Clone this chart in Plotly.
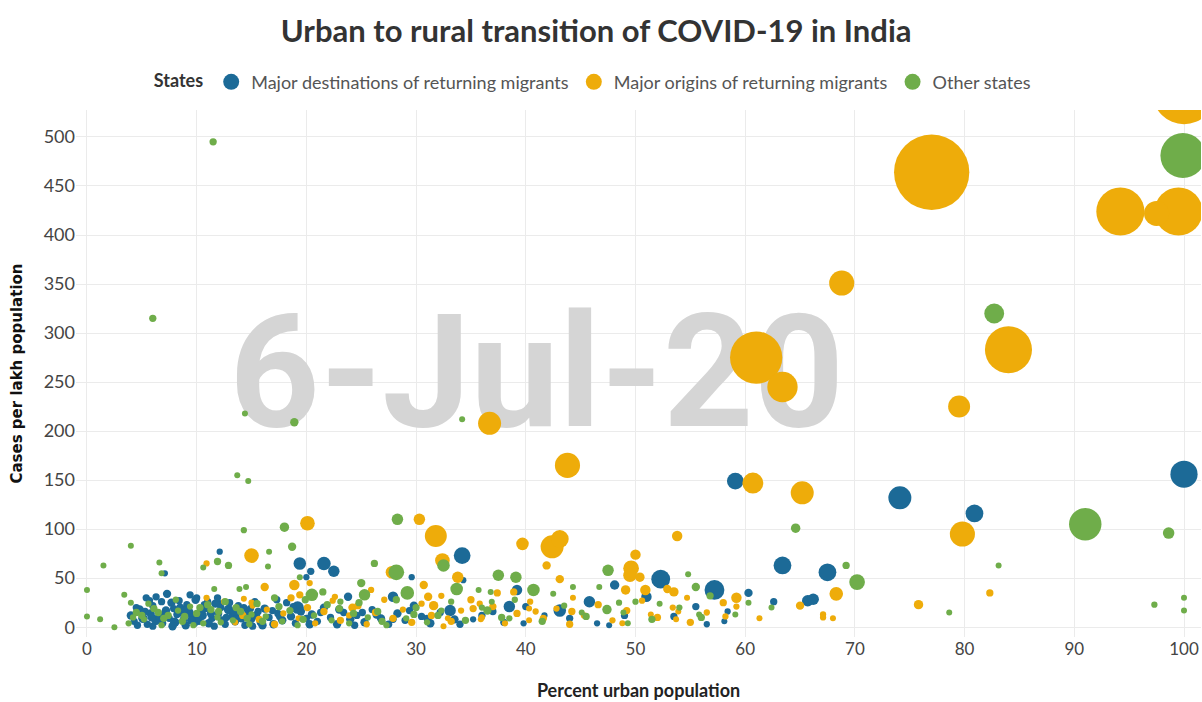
import plotly.graph_objects as go

# ---- Data: (percent urban population, cases per lakh population, total cases) ----
dest_points = [
    (59.1, 149, 4200), (74.1, 132, 7940), (80.9, 116, 4740), (100.0, 156, 11090),
    (63.4, 63, 4740), (67.5, 56, 4740), (57.2, 38, 5920), (60.3, 35, 1050),
    (58.4, 16, 590), (58.1, 6, 410), (62.6, 26, 800), (65.7, 27, 1980),
    (66.2, 28.5, 1980), (52.3, 49, 5310), (51.0, 31, 1640), (48.1, 43, 1330),
    (55.5, 21, 800), (47.6, 2, 410), (45.8, 26, 1980), (43.1, 17, 2360),
    (41.7, 12, 590), (40.0, 21, 800), (39.2, 38, 1640), (38.5, 21, 1980),
    (39.8, 4, 590), (35.2, 8, 590), (33.1, 17, 1980), (34.2, 73, 4200),
    (34.3, 48, 590), (29.6, 51, 590), (27.9, 31, 1640), (23.8, 31, 1050),
    (25.1, 15, 800), (19.4, 65, 2360), (21.6, 65, 2770), (22.5, 57, 1980),
    (20.4, 57, 800), (20.0, 51, 590), (19.2, 20, 2360), (12.1, 77, 590),
    (7.1, 55, 590), (7.3, 34, 1050), (6.3, 31, 800), (10.0, 30, 800), (12.1, 24, 800),
    (4.0, 12, 1050), (4.3, 6, 800), (4.8, 18, 1050), (5.1, 9, 1330), (5.5, 3, 800),
    (5.8, 14, 1050), (6.0, 22, 800), (6.3, 7, 1330), (6.6, 11, 1050), (6.9, 4, 800),
    (7.2, 17, 1050), (7.5, 9, 800), (7.7, 25, 1050), (8.0, 5, 1330), (8.2, 13, 800),
    (8.5, 20, 1050), (8.8, 8, 800), (9.0, 2, 1050), (9.3, 15, 1330), (9.6, 10, 800),
    (9.9, 28, 1050), (10.2, 6, 800), (10.5, 12, 1330), (10.8, 19, 800), (11.1, 4, 1050),
    (11.4, 9, 800), (11.7, 24, 1050), (12.0, 14, 800), (12.3, 7, 1050), (12.6, 3, 800),
    (12.9, 18, 1330), (13.2, 11, 800), (13.5, 6, 1050), (13.8, 22, 800), (14.1, 9, 1050),
    (14.4, 2, 800), (14.7, 15, 1050), (15.0, 8, 800), (15.4, 12, 1050), (15.8, 5, 800),
    (16.2, 19, 1050), (16.6, 10, 800), (17.0, 3, 1050), (17.4, 14, 800), (17.8, 7, 1050),
    (18.2, 25, 800), (18.6, 11, 1050), (19.0, 4, 800), (19.5, 16, 1050), (20.0, 9, 800),
    (20.5, 13, 1050), (21.0, 6, 800), (21.6, 20, 1050), (22.2, 10, 800), (22.8, 3, 1050),
    (23.4, 15, 800), (24.0, 8, 1050), (24.6, 12, 800), (25.3, 5, 1050), (26.0, 18, 800),
    (26.8, 9, 1050), (27.5, 3, 800), (28.3, 14, 1050), (29.0, 7, 800), (29.8, 22, 1050),
    (30.5, 11, 800), (31.3, 4, 1050), (32.2, 15, 800), (33.5, 8, 1050), (36.0, 12, 800),
    (38.0, 5, 800), (44.0, 9, 800), (46.5, 4, 590), (49.0, 12, 800), (53.5, 11, 800),
    (56.5, 3, 590),
    (4.5, 20, 800), (5.3, 16, 800), (6.0, 1, 800), (6.8, 26, 800), (7.9, 19, 800),
    (8.6, 15, 1050), (9.1, 23, 800), (9.8, 4, 800), (10.4, 17, 1050), (11.0, 26, 800),
    (11.6, 1, 800), (12.2, 20, 800), (13.0, 25, 800), (13.7, 13, 1050), (14.3, 20, 800),
    (15.1, 1, 800), (15.6, 16, 800), (5.7, 27, 800), (8.4, 27, 800), (10.1, 9.5, 800),
    (4.6, 2, 800), (5.9, 10, 1050), (7.0, 13, 800), (7.8, 1, 1050), (8.9, 18, 800),
    (9.5, 7, 1050), (10.7, 23, 800), (11.3, 14, 1050), (12.7, 10, 800), (13.4, 16, 1050),
    (14.9, 19, 800), (16.0, 2, 1050), (16.9, 17, 800), (17.6, 11, 1050), (18.8, 21, 800),
    (20.3, 3, 1050), (21.3, 15, 800), (23.0, 18, 1050), (24.4, 2, 800), (26.4, 13, 1050),
    (27.9, 8, 800), (29.4, 17, 800), (31.0, 9, 800), (34.0, 3, 800), (37.0, 16, 800),
    (5.4, 30, 800), (9.4, 33, 800), (11.9, 30, 800), (15.3, 26, 800), (17.3, 28, 800),
]

orig_points = [
    (100.0, 545, 59040), (77.0, 464, 85020), (94.2, 424, 34700), (99.5, 424, 34700),
    (97.5, 422, 9450), (68.8, 351, 9450), (84.0, 283, 33210), (61.0, 275, 41000),
    (63.4, 245, 13790), (79.5, 225, 7230), (36.7, 208, 7940), (43.8, 165, 9450),
    (60.7, 147, 6560), (65.2, 137, 7940), (79.8, 95, 9450), (20.1, 106, 3210),
    (30.3, 110, 1980), (31.8, 93, 7230), (32.4, 68, 3210), (39.7, 85, 2360),
    (42.4, 82, 7940), (43.1, 90, 4740), (33.8, 51, 1980), (41.9, 63, 1050),
    (43.1, 49, 1050), (15.0, 73, 3210), (10.9, 65, 590), (53.8, 93, 1640),
    (50.0, 74, 1640), (49.6, 60, 3690), (49.5, 53, 2770), (50.4, 51, 1330),
    (49.1, 38, 1330), (50.9, 38, 1640), (52.9, 39, 1050), (53.5, 36, 1330),
    (54.7, 30, 410), (53.9, 16, 410), (51.4, 13, 410), (53.7, 8, 410), (48.8, 4, 410),
    (59.2, 30, 1640), (59.2, 21, 590), (58.2, 11, 590), (61.3, 9, 410), (65.0, 22, 1050),
    (68.3, 34, 2770), (67.1, 13, 590), (67.1, 10, 590), (68.0, 9, 410), (75.8, 23, 1330),
    (82.3, 35, 800), (27.8, 56, 2360), (18.9, 43, 1640), (16.2, 41, 1050), (19.4, 33, 800),
    (30.7, 43, 1050), (31.1, 31, 1050), (31.6, 22, 1330), (25.9, 38, 590), (22.6, 31, 590),
    (24.2, 20, 1050), (20.3, 45, 590), (37.4, 35, 800), (35.8, 24, 590), (35.2, 19, 800),
    (40.3, 19, 410), (40.9, 16, 590), (44.2, 16, 800), (44.3, 30, 410), (40.3, 7, 410),
    (35.9, 8, 410), (32.5, 1, 410), (32.9, 9, 410), (38.9, 36, 800), (10.9, 30, 590),
    (12.5, 26, 590), (14.3, 29, 410), (15.1, 22, 410),
    (13.5, 5, 590), (14.2, 12, 800), (15.0, 25, 590), (15.7, 8, 800), (16.4, 18, 590),
    (17.1, 3, 800), (17.9, 14, 590), (18.6, 30, 800), (19.3, 9, 590), (20.1, 20, 800),
    (20.8, 4, 590), (21.6, 16, 800), (22.4, 27, 590), (23.1, 7, 800), (23.9, 12, 590),
    (24.7, 22, 800), (25.5, 3, 590), (26.3, 15, 800), (27.1, 28, 590), (27.9, 9, 800),
    (28.8, 18, 590), (29.6, 5, 800), (30.5, 24, 590), (31.4, 12, 800), (32.3, 32, 590),
    (33.2, 6, 800), (34.1, 17, 590), (35.0, 28, 800), (36.0, 10, 590), (37.0, 21, 800),
    (38.1, 4, 590), (39.2, 14, 800), (40.4, 26, 590), (41.6, 9, 800), (42.8, 19, 590),
    (44.0, 3, 800), (45.3, 12, 590), (46.6, 23, 800), (47.9, 7, 590), (49.2, 17, 800),
    (50.6, 27, 590), (52.0, 10, 800), (53.4, 20, 590), (55.0, 5, 800), (56.5, 15, 590),
    (58.0, 25, 800),
]

other_points = [
    (11.5, 495, 800), (6.0, 315, 800), (14.4, 218, 260), (18.9, 209, 1050),
    (34.2, 212, 260), (13.7, 155, 260), (14.7, 149, 260), (99.9, 481, 30320),
    (82.7, 320, 5920), (91.0, 105, 15760), (98.6, 96, 1980), (64.6, 101, 1330),
    (69.2, 63, 800), (70.2, 46, 3690), (83.1, 63, 260), (56.8, 32, 800),
    (60.3, 25, 410), (59.1, 13, 260), (62.4, 20, 410), (78.6, 15, 410), (97.3, 23, 590),
    (100.0, 30, 260), (100.0, 17, 260), (18.0, 102, 1330), (14.3, 99, 590),
    (28.3, 110, 1980), (4.0, 83, 410), (1.5, 63, 410), (6.6, 66, 410), (6.8, 55, 410),
    (0.0, 38, 410), (0.0, 11, 410), (1.2, 8, 410), (2.5, 0, 410), (3.4, 33, 410),
    (4.0, 25, 410), (11.9, 67, 800), (12.9, 63, 800), (10.6, 61, 410), (11.6, 39, 410),
    (13.9, 39, 410), (14.5, 41, 410), (18.7, 82, 1050), (16.6, 77, 410), (16.5, 62, 260),
    (19.4, 51, 260), (26.2, 65, 800), (28.2, 56, 3690), (25.0, 45, 1050), (25.3, 33, 1980),
    (20.5, 33, 2360), (29.2, 35, 2770), (23.1, 26, 590), (32.5, 63, 2360), (33.7, 39, 2360),
    (37.5, 53, 1980), (39.1, 51, 1980), (40.7, 38, 2360), (35.7, 38, 410), (36.8, 36, 410),
    (36.9, 26, 410), (36.5, 17, 1050), (42.5, 34, 410), (44.3, 41, 410), (46.7, 41, 260),
    (47.4, 18, 1330), (45.1, 15, 410), (38.5, 9, 590), (47.5, 58, 1980), (32.3, 17, 590),
    (54.8, 54, 410), (55.5, 41, 1050), (52.2, 24, 410), (50.0, 26, 590), (55.8, 13, 410),
    (48.9, 15, 410), (49.3, 4, 410),
    (3.8, 4, 590), (4.5, 15, 800), (5.2, 8, 590), (6.1, 19, 800), (6.8, 2, 590),
    (7.4, 12, 800), (8.1, 28, 590), (8.7, 6, 800), (9.4, 21, 590), (10.0, 14, 800),
    (10.6, 4, 590), (11.3, 18, 800), (11.9, 10, 590), (12.6, 26, 800), (13.3, 7, 590),
    (14.0, 16, 800), (14.8, 3, 590), (15.5, 24, 800), (16.3, 11, 590), (17.1, 30, 800),
    (17.8, 6, 590), (18.5, 17, 800), (19.2, 2, 590), (19.9, 28, 800), (20.7, 12, 590),
    (21.5, 36, 800), (22.3, 7, 590), (23.0, 19, 800), (23.9, 4, 590), (24.8, 25, 800),
    (25.6, 10, 590), (26.5, 16, 800), (27.3, 2, 590), (28.2, 28, 800), (29.1, 9, 590),
    (30.0, 20, 800), (31.0, 5, 590), (32.0, 12, 800), (33.2, 26, 590), (34.5, 7, 800),
    (36.0, 20, 590), (37.8, 10, 800), (39.0, 28, 590), (41.5, 6, 800), (43.5, 22, 590),
    (45.5, 11, 800), (48.5, 25, 590), (51.5, 8, 800), (54.0, 20, 590), (56.0, 10, 800),
    (4.2, 10, 590), (5.6, 24, 590), (7.0, 9, 800), (8.3, 17, 590), (9.7, 2, 590),
    (11.0, 23, 800), (12.2, 5, 590), (13.6, 20, 800), (15.0, 13, 590), (16.0, 6, 800),
    (5.0, 12, 800), (6.5, 15, 800), (8.9, 11, 800), (10.3, 20, 800), (12.0, 16, 800),
    (14.6, 9, 800), (17.5, 21, 800), (19.7, 8, 800), (21.9, 23, 800), (24.3, 14, 800),
    (26.9, 6, 800), (29.8, 13, 800),
]

series_names = ["Major destinations of returning migrants",
                "Major origins of returning migrants",
                "Other states"]
series_colors = ["#1c6a97", "#eeac0a", "#6fad4a"]
x_ticks = [0, 10, 20, 30, 40, 50, 60, 70, 80, 90, 100]
y_ticks = [0, 50, 100, 150, 200, 250, 300, 350, 400, 450, 500]
date_label = "6-Jul-20"

SIZEREF = 30.0

fig = go.Figure()

# watermark date (drawn first, underneath markers)
fig.add_trace(go.Scatter(
    x=[41.0], y=[245], mode="text", text=[date_label],
    textfont=dict(family="Roboto, sans-serif", size=158,
                  color="#d5d5d5", weight="bold"),
    textposition="middle center", hoverinfo="skip", showlegend=False,
))

for name, color, pts in zip(series_names, series_colors,
                            [dest_points, orig_points, other_points]):
    xs = [p[0] for p in pts]
    ys = [p[1] for p in pts]
    cs = [p[2] for p in pts]
    fig.add_trace(go.Scatter(
        x=xs, y=ys, mode="markers", name=name, showlegend=False,
        marker=dict(size=cs, sizemode="area", sizeref=SIZEREF, sizemin=3,
                    color=color, opacity=1, line=dict(width=0)),
    ))

# legend entries (marker swatches)
for name, color in zip(series_names, series_colors):
    fig.add_trace(go.Scatter(
        x=[None], y=[None], mode="markers", name=name, showlegend=True,
        marker=dict(size=16, color=color, line=dict(width=0)),
    ))

fig.update_layout(
    width=1202, height=702,
    paper_bgcolor="white", plot_bgcolor="white",
    margin=dict(l=76, r=1, t=110, b=65, autoexpand=False),
    title=dict(text="<b>Urban to rural transition of COVID-19 in India</b>",
               x=0.496, xanchor="center", y=0.955, yanchor="middle",
               font=dict(family="Lato, sans-serif", size=31, color="#333333")),
    legend=dict(orientation="h", xref="container", x=0.494, xanchor="center",
                yref="container", y=0.883, yanchor="middle",
                title=dict(text="<b>States</b>", font=dict(family="Lato", size=18, color="#333333")),
                font=dict(family="Lato, sans-serif", size=18, color="#555555"),
                itemsizing="trace", itemwidth=30, tracegroupgap=0),
    showlegend=True,
)

fig.update_xaxes(
    range=[-1.0, 101.55], tickvals=x_ticks, showgrid=True, gridcolor="#ebebeb",
    gridwidth=1, zeroline=False, showline=False, ticks="", automargin=False,
    tickfont=dict(family="Lato, sans-serif", size=17, color="#444444"),
    title=dict(text="<b>Percent urban population</b>", standoff=26,
               font=dict(family="Lato, sans-serif", size=18, color="#222222")),
)
fig.update_yaxes(
    range=[-10, 527.5], tickvals=y_ticks, showgrid=True, gridcolor="#ebebeb",
    gridwidth=1, zeroline=False, showline=False, ticks="", automargin=False,
    tickfont=dict(family="Lato, sans-serif", size=18, color="#444444"),
    title=dict(text="<b>Cases per lakh population</b>", standoff=17,
               font=dict(family="DejaVu Sans, sans-serif", size=15, color="#111111")),
)

fig.write_html("out.html", config={"displayModeBar": False},
               post_script="document.body.style.margin='0';")
